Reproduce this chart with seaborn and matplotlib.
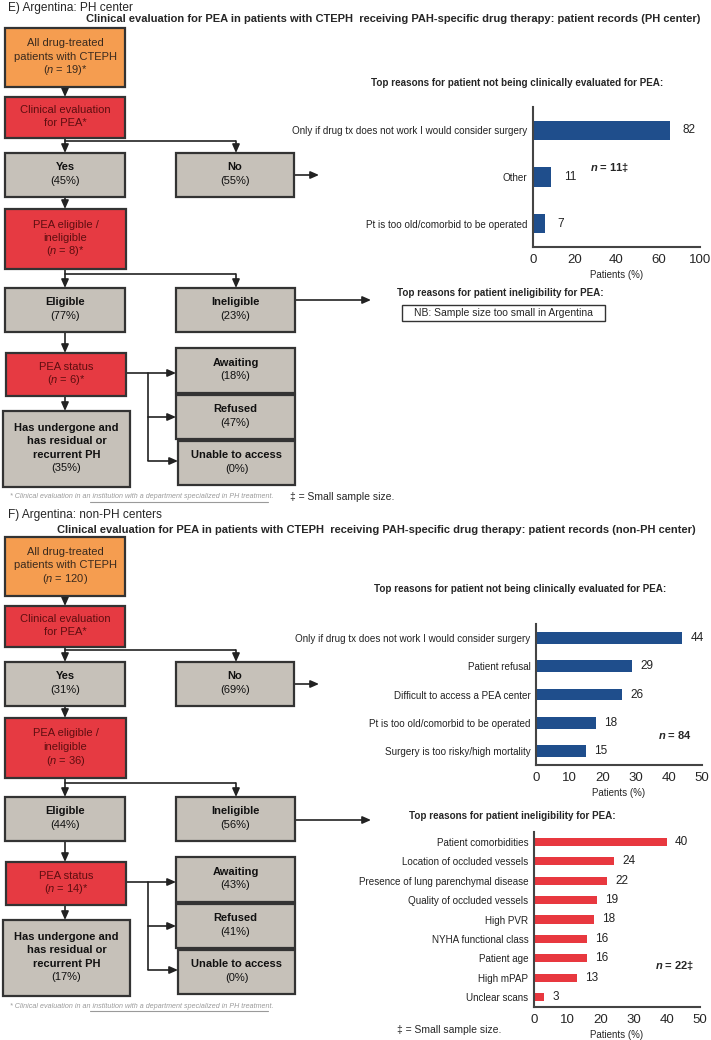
import numpy as np
import pandas as pd
import matplotlib
matplotlib.use("Agg")
import matplotlib.pyplot as plt
from matplotlib.patches import Rectangle
import seaborn as sns

sns.set_style("white")
plt.rcParams['font.family'] = ['Liberation Sans', 'DejaVu Sans']
plt.rcParams['mathtext.fontset'] = 'custom'
plt.rcParams['mathtext.rm'] = 'Liberation Sans'
plt.rcParams['mathtext.it'] = 'Liberation Sans:italic'
plt.rcParams['mathtext.bf'] = 'Liberation Sans:bold:italic'

# ---- data ----
flow_labels = ['Yes', 'No', 'Eligible', 'Ineligible', 'Awaiting', 'Refused',
               'Unable to access', 'Has undergone and\nhas residual or\nrecurrent PH']
e_flow_pct = [45, 55, 77, 23, 18, 47, 0, 35]
f_flow_pct = [31, 69, 44, 56, 43, 41, 0, 17]
e_n = [19, 8, 6]
f_n = [120, 36, 14]
e_star = ['*', '*', '*']
f_star = ['', '', '*']

e_noeval_cats = ['Only if drug tx does not work I would consider surgery', 'Other',
                 'Pt is too old/comorbid to be operated']
e_noeval_vals = [82, 11, 7]
e_noeval_ticks = [0, 25, 50, 75, 100]
e_noeval_ticklabels = ['0', '20', '40', '60', '100']

f_noeval_cats = ['Only if drug tx does not work I would consider surgery', 'Patient refusal',
                 'Difficult to access a PEA center', 'Pt is too old/comorbid to be operated',
                 'Surgery is too risky/high mortality']
f_noeval_vals = [44, 29, 26, 18, 15]

f_inelig_cats = ['Patient comorbidities', 'Location of occluded vessels',
                 'Presence of lung parenchymal disease', 'Quality of occluded vessels',
                 'High PVR', 'NYHA functional class', 'Patient age', 'High mPAP', 'Unclear scans']
f_inelig_vals = [40, 24, 22, 19, 18, 16, 16, 13, 3]

W, H = 711, 1040
ORANGE = '#F59D50'
RED = '#E63A42'
GRAY = '#C6C1B9'
EDGE = '#333333'
LINE = '#222222'
BLUE = '#1F4E8C'
BARRED = '#E8383F'

fig = plt.figure(figsize=(W / 100, H / 100), dpi=100)
bg = fig.add_axes([0, 0, 1, 1])
bg.set_xlim(0, W)
bg.set_ylim(H, 0)
bg.axis('off')


def box(x0, y0, x1, y1, fc, lines, tc, bold):
    bg.add_patch(Rectangle((x0, y0), x1 - x0, y1 - y0, fc=fc, ec=EDGE, lw=1.6, zorder=2))
    cy = (y0 + y1) / 2 - 1
    n = len(lines)
    for i, l in enumerate(lines):
        y = cy + (i - (n - 1) / 2) * 13.5
        bg.text((x0 + x1) / 2, y, l, ha='center', va='center', fontsize=8, color=tc,
                fontweight='bold' if bold[i] else 'normal', zorder=3)


def line(xs, ys):
    bg.plot(xs, ys, color=LINE, lw=1.2, solid_capstyle='butt', zorder=1)


def arrow(x0, y0, x1, y1):
    bg.annotate('', xy=(x1, y1), xytext=(x0, y0),
                arrowprops=dict(arrowstyle='-|>,head_length=0.5,head_width=0.22', lw=1.2,
                                color=LINE, shrinkA=0, shrinkB=0, mutation_scale=10), zorder=1)


def gray_box(x0, y0, x1, y1, label, pct):
    parts = label.split('\n')
    box(x0, y0, x1, y1, GRAY, parts + [f'({pct}%)'], '#111111', [True] * len(parts) + [False])


def flow(dy, ns, stars, pct, inelig_y):
    nl = [f'($\\mathit{{n}}$ = {n}){s}' for n, s in zip(ns, stars)]
    box(5, 28 + dy, 125, 87 + dy, ORANGE, ['All drug-treated', 'patients with CTEPH', nl[0]],
        '#3a2a1e', [False] * 3)
    arrow(65, 87 + dy, 65, 97 + dy)
    box(5, 97 + dy, 125, 138 + dy, RED, ['Clinical evaluation', 'for PEA*'], '#5e0e10', [False] * 2)
    line([65, 65, 236], [138 + dy, 141 + dy, 141 + dy])
    arrow(65, 141 + dy, 65, 153 + dy)
    arrow(236, 141 + dy, 236, 153 + dy)
    gray_box(5, 153 + dy, 125, 197 + dy, flow_labels[0], pct[0])
    gray_box(176, 153 + dy, 294, 197 + dy, flow_labels[1], pct[1])
    arrow(294, 175 + dy, 319, 175 + dy)
    arrow(65, 197 + dy, 65, 209 + dy)
    box(5, 209 + dy, 126, 269 + dy, RED, ['PEA eligible /', 'ineligible', nl[1]], '#5e0e10', [False] * 3)
    line([65, 65, 236], [269 + dy, 274 + dy, 274 + dy])
    arrow(65, 274 + dy, 65, 288 + dy)
    arrow(236, 274 + dy, 236, 288 + dy)
    gray_box(5, 288 + dy, 125, 332 + dy, flow_labels[2], pct[2])
    gray_box(176, 288 + dy, 295, 332 + dy, flow_labels[3], pct[3])
    arrow(295, inelig_y, 371, inelig_y)
    arrow(65, 332 + dy, 65, 353 + dy)
    box(6, 353 + dy, 126, 396 + dy, RED, ['PEA status', nl[2]], '#5e0e10', [False] * 2)
    line([126, 148, 148], [373 + dy, 373 + dy, 461 + dy])
    arrow(148, 373 + dy, 176, 373 + dy)
    arrow(148, 417 + dy, 176, 417 + dy)
    arrow(148, 461 + dy, 178, 461 + dy)
    gray_box(176, 348 + dy, 295, 393 + dy, flow_labels[4], pct[4])
    gray_box(176, 395 + dy, 295, 439 + dy, flow_labels[5], pct[5])
    gray_box(178, 441 + dy, 295, 485 + dy, flow_labels[6], pct[6])
    arrow(65, 396 + dy, 65, 411 + dy)
    gray_box(3, 411 + dy, 130, 487 + dy, flow_labels[7], pct[7])
    # footnote
    fy = 497 + dy
    bg.text(10, fy, '* Clinical evaluation in an institution with a department specialized in PH treatment.',
            fontsize=5.1, style='italic', color='#9a9a9a', va='center')
    bg.plot([90, 268], [fy + 5, fy + 5], color='#9a9a9a', lw=0.8)


flow(0, e_n, e_star, e_flow_pct, 300)
flow(509, f_n, f_star, f_flow_pct, 820)

# section headings
bg.text(8, 8, 'E) Argentina: PH center', fontsize=8.6, va='center')
bg.text(86, 19, 'Clinical evaluation for PEA in patients with CTEPH  receiving PAH-specific drug therapy: '
        'patient records (PH center)', fontsize=8, fontweight='bold', va='center')
bg.text(8, 515, 'F) Argentina: non-PH centers', fontsize=8.6, va='center')
bg.text(57, 530, 'Clinical evaluation for PEA in patients with CTEPH  receiving PAH-specific drug therapy: '
        'patient records (non-PH center)', fontsize=8, fontweight='bold', va='center')
bg.text(290, 497, '\u2021 = Small sample size.', fontsize=7.5, va='center')
bg.text(397, 1030, '\u2021 = Small sample size.', fontsize=7.5, va='center')

# chart titles
bg.text(517, 83, 'Top reasons for patient not being clinically evaluated for PEA:', fontsize=7.1,
        fontweight='bold', ha='center', va='center')
bg.text(397, 293, 'Top reasons for patient ineligibility for PEA:', fontsize=7.1,
        fontweight='bold', va='center')
bg.add_patch(Rectangle((402, 305), 203, 16, fc='white', ec=EDGE, lw=1.0))
bg.text(503.5, 313, 'NB: Sample size too small in Argentina', fontsize=7.5, ha='center', va='center')
bg.text(520, 589, 'Top reasons for patient not being clinically evaluated for PEA:', fontsize=7.1,
        fontweight='bold', ha='center', va='center')
bg.text(409, 816, 'Top reasons for patient ineligibility for PEA:', fontsize=7.1,
        fontweight='bold', va='center')

bg.text(610, 167, '$\\mathbf{n}$ = 11\u2021', fontsize=8, fontweight='bold', ha='center', va='center')
bg.text(675, 735, '$\\mathbf{n}$ = 84', fontsize=8, fontweight='bold', ha='center', va='center')
bg.text(675, 965, '$\\mathbf{n}$ = 22\u2021', fontsize=8, fontweight='bold', ha='center', va='center')


def bar_chart(x0, y0, x1, y1, cats, vals, color, xmax, ticks, ticklabels, gap=6):
    ax = fig.add_axes([x0 / W, 1 - y1 / H, (x1 - x0) / W, (y1 - y0) / H])
    ax.patch.set_alpha(0)
    df = pd.DataFrame({'cat': cats, 'val': vals})
    sns.barplot(data=df, x='val', y='cat', orient='h', color=color, width=0.42,
                linewidth=0, saturation=1, ax=ax)
    n = len(cats)
    ax.set_ylim(n - 0.5, -0.5)
    ax.set_xlim(0, xmax)
    for i, v in enumerate(vals):
        ax.annotate(str(v), (v, i), xytext=(gap, 0), textcoords='offset points',
                    va='center', ha='left', fontsize=8.5, color='#222222')
    ax.set_xticks(ticks)
    ax.set_xticklabels(ticklabels, fontsize=9.5)
    ax.set_yticks(np.arange(-0.5, n), minor=True)
    ax.tick_params(axis='y', which='major', length=0, labelsize=7.1, pad=4, labelcolor='#222222')
    ax.tick_params(axis='y', which='minor', length=4, width=1.2, color='#444444')
    ax.tick_params(axis='x', length=4, width=1.2, color='#444444', pad=1)
    ax.set_xlabel('Patients (%)', fontsize=7, labelpad=3)
    ax.set_ylabel('')
    sns.despine(ax=ax)
    for s in ['left', 'bottom']:
        ax.spines[s].set_linewidth(1.5)
        ax.spines[s].set_color('#444444')
    return ax


bar_chart(533, 107, 700, 247, e_noeval_cats, e_noeval_vals, BLUE, 100, e_noeval_ticks,
          e_noeval_ticklabels, gap=9)
bar_chart(536, 624, 702, 765, f_noeval_cats, f_noeval_vals, BLUE, 50,
          [0, 10, 20, 30, 40, 50], ['0', '10', '20', '30', '40', '50'])
bar_chart(534, 832, 700, 1007, f_inelig_cats, f_inelig_vals, BARRED, 50,
          [0, 10, 20, 30, 40, 50], ['0', '10', '20', '30', '40', '50'])

fig.savefig('out.png', dpi=100)
